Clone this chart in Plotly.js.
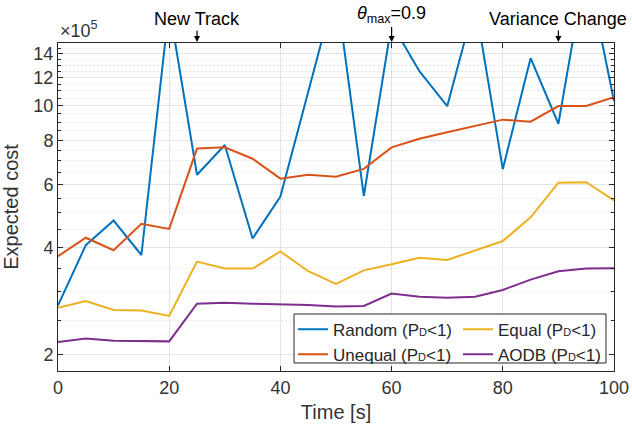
<!DOCTYPE html>
<html>
<head>
<meta charset="utf-8">
<script src="https://cdn.plot.ly/plotly-3.0.1.min.js"></script>
<style>html,body{margin:0;padding:0;background:#fff;}#chart{width:632px;height:426px;}</style>
</head>
<body>
<div id="chart"></div>
<script>
// Values in units of 1e5
const SCALE = 1e5;
const time = [0,5,10,15,20,25,30,35,40,45,50,55,60,65,70,75,80,85,90,95,100];
const randomCost  = [2.75,4.06,4.76,3.81,19.0,6.40,7.76,4.24,5.56,11.1,21.5,5.58,17.0,12.5,9.97,19.5,6.64,13.6,8.90,25.0,10.3];
const unequalCost = [3.78,4.26,3.93,4.66,4.51,7.58,7.64,7.10,6.24,6.40,6.32,6.65,7.64,8.08,8.42,8.78,9.14,9.02,9.98,9.98,10.56];
const equalCost   = [2.71,2.83,2.67,2.66,2.57,3.65,3.49,3.49,3.90,3.43,3.16,3.45,3.59,3.74,3.69,3.93,4.17,4.86,6.08,6.10,5.42];
const aodbCost    = [2.17,2.22,2.19,2.19,2.18,2.78,2.80,2.78,2.77,2.76,2.73,2.74,2.97,2.91,2.89,2.91,3.04,3.25,3.43,3.49,3.50];
const seriesNames = ['Random (P<span style="font-size:11px">D</span><1)','Unequal (P<span style="font-size:11px">D</span><1)','Equal (P<span style="font-size:11px">D</span><1)','AODB (P<span style="font-size:11px">D</span><1)'];
const yTickVals = [2,4,6,8,10,12,14];
const yTickText = ['2','4','6','8','10','12','14'];
const yMinorVals = [2.5,3,3.5,4.5,5,5.5,6.5,7,7.5,8.5,9,9.5,10.5,11,11.5,12.5,13,13.5,14.5];
const xTickVals = [0,20,40,60,80,100];
const events = [
  {t:25, label:'New Track', ay:-24},
  {t:60, label:'<i>θ</i><sub>max</sub>=0.9', ay:-29},
  {t:90, label:'Variance Change', ay:-24}
];

const colors = ['#0072BD','#D95319','#EDB120','#7E2F8E'];
const allSeries = [randomCost, unequalCost, equalCost, aodbCost];
const legendIds = ['legend','legend','legend2','legend2'];
const scaled = arr => arr.map(v => v*SCALE);

const traces = allSeries.map((s,i) => ({
  x: time, y: scaled(s), type:'scatter', mode:'lines',
  name: seriesNames[i], legend: legendIds[i],
  line:{color:colors[i], width:2}
}));

const axisColor = '#262626';
const font = {family:'"Liberation Sans", Arial, Helvetica, sans-serif', color:'#333333', size:18};

const layout = {
  width:632, height:426,
  margin:{l:58, r:18, t:43, b:55},
  paper_bgcolor:'#ffffff', plot_bgcolor:'#ffffff',
  font: font,
  showlegend:true,
  xaxis:{
    range:[0,100], tickmode:'array', tickvals:xTickVals,
    ticks:'inside', ticklen:5, tickcolor:axisColor,
    showline:true, linecolor:axisColor, linewidth:1, mirror:'ticks',
    showgrid:true, gridcolor:'#e4e4e4', gridwidth:1, zeroline:false,
    tickfont:{size:18, color:'#333333'},
    title:{text:'Time [s]', font:{size:20, color:'#333333'}, standoff:8}
  },
  yaxis:{
    type:'log', range:[Math.log10(1.8e5), Math.log10(1.5e6)],
    tickmode:'array', tickvals:scaled(yTickVals), ticktext:yTickText,
    ticks:'inside', ticklen:5, tickcolor:axisColor,
    showline:true, linecolor:axisColor, linewidth:1, mirror:'ticks',
    showgrid:true, gridcolor:'#e4e4e4', gridwidth:1, zeroline:false,
    tickfont:{size:18, color:'#333333'},
    minor:{tickmode:'array', tickvals:scaled(yMinorVals), ticks:'inside', ticklen:3, tickcolor:axisColor,
           showgrid:true, gridcolor:'#d6d6d6', griddash:'1px,3px', gridwidth:1},
    title:{text:'Expected cost', font:{size:20, color:'#333333'}, standoff:10}
  },
  legend:{x:0.4227, xanchor:'left', y:0.181, yanchor:'top', orientation:'v',
          bgcolor:'rgba(0,0,0,0)', borderwidth:0, font:{size:17, color:'#262626'}, itemwidth:30},
  legend2:{x:0.7194, xanchor:'left', y:0.181, yanchor:'top', orientation:'v',
          bgcolor:'rgba(0,0,0,0)', borderwidth:0, font:{size:17, color:'#262626'}, itemwidth:30},
  shapes:[{type:'rect', xref:'paper', yref:'paper', x0:0.4245, x1:0.9856, y0:0.0244, y1:0.1738,
           line:{color:axisColor, width:1}, fillcolor:'#ffffff', layer:'above'}],
  annotations: [
    {xref:'paper', yref:'paper', x:0, y:1, xanchor:'left', yanchor:'bottom', yshift:0, xshift:0,
     text:'×10<sup>5</sup>', showarrow:false, font:{size:18, color:'#333333'}}
  ].concat(events.map(e => ({
     x:e.t, xref:'x', y:1, yref:'paper', text:e.label, showarrow:true,
     ax:0, ay:e.ay, arrowhead:2, arrowsize:1, arrowwidth:1.2, arrowcolor:'#000000', standoff:1,
     font:{size:18, color:'#000000'}
  })))
};

Plotly.newPlot('chart', traces, layout, {displayModeBar:false, staticPlot:true});
</script>
</body>
</html>
